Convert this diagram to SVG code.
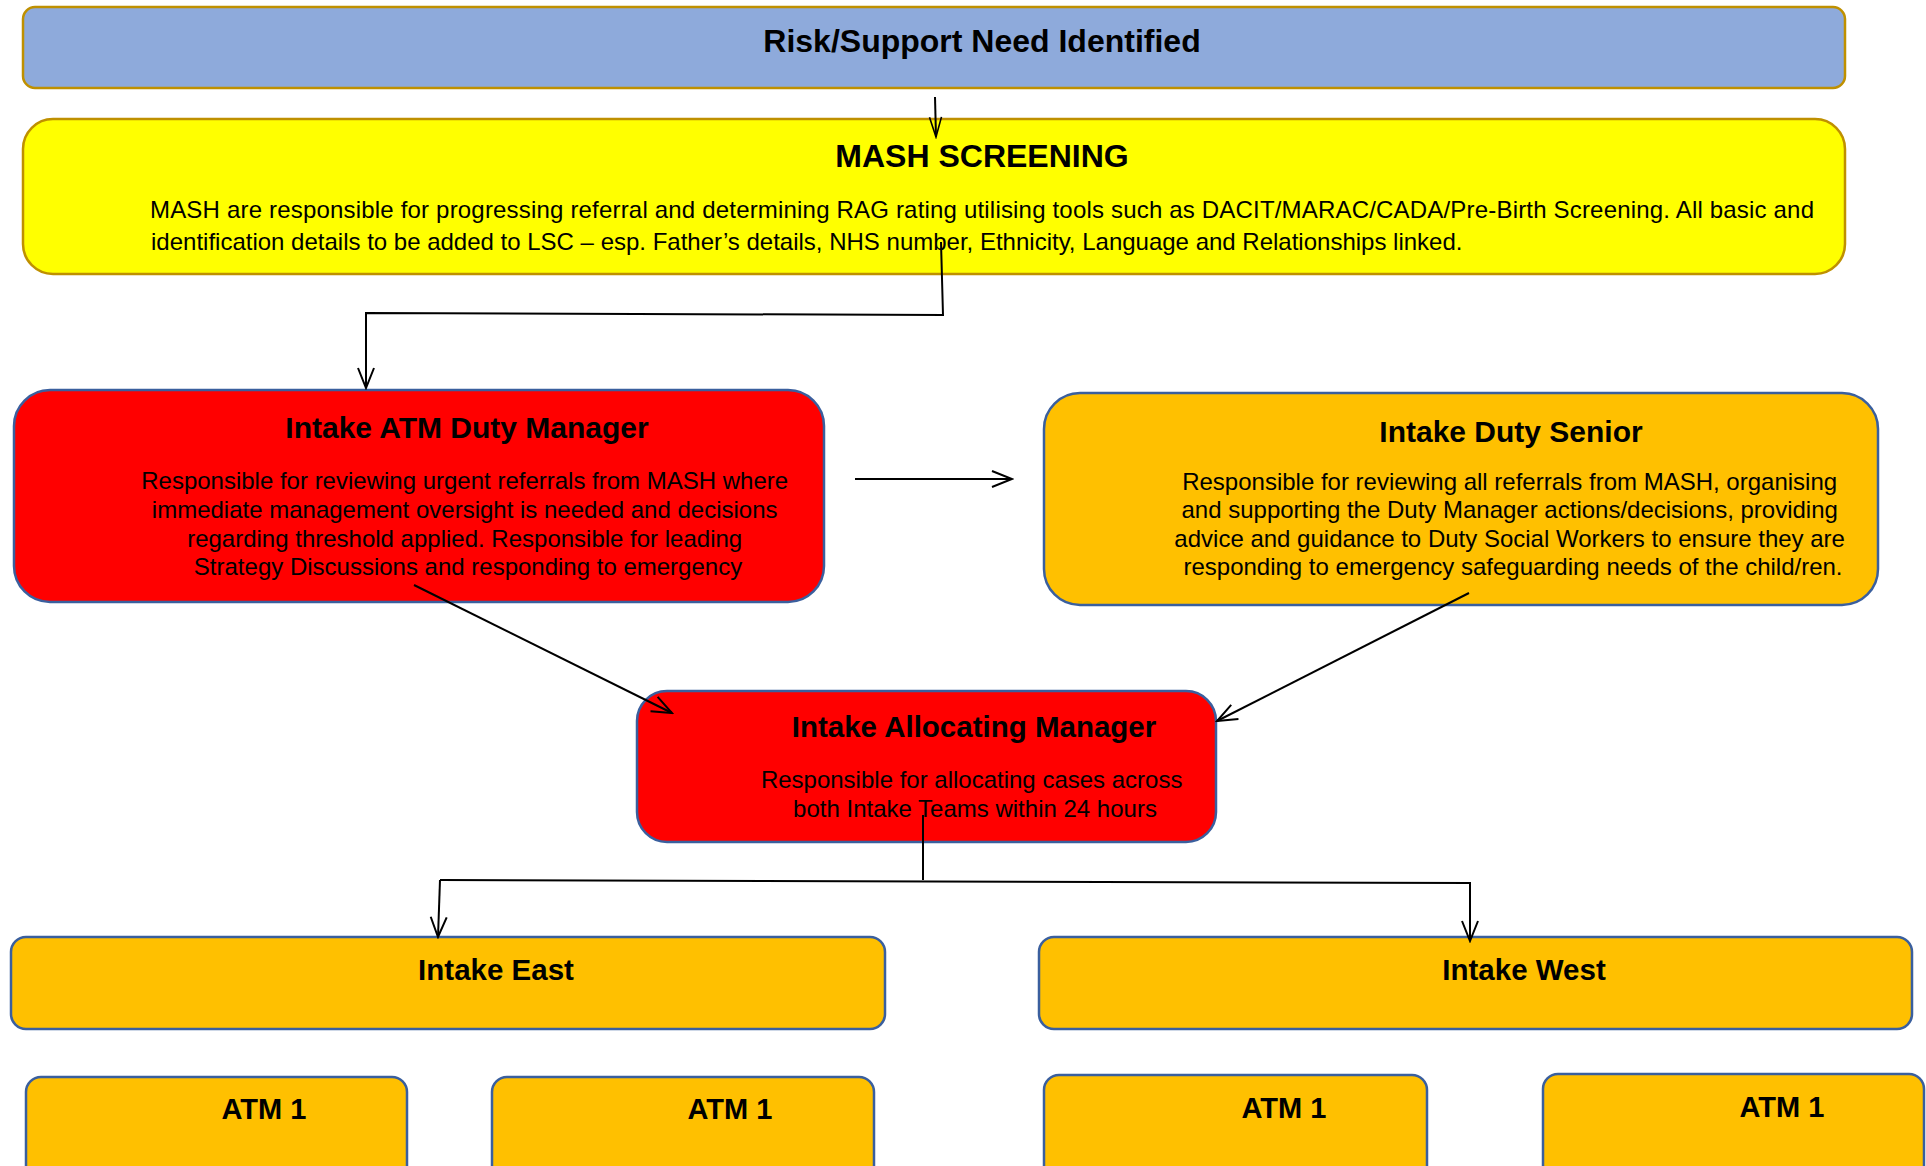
<svg xmlns="http://www.w3.org/2000/svg" width="1926" height="1166" viewBox="0 0 1926 1166">
  <style>
    text { font-family: "Liberation Sans", Arial, sans-serif; fill: #000; }
    .title { font-weight: bold; text-anchor: middle; }
    .body { font-size: 24px; }
    .mid { text-anchor: middle; }
    .gold { stroke: #BF9000; stroke-width: 2.5; }
    .blue { stroke: #3A5F9E; stroke-width: 2.5; }
    .conn { fill: none; stroke: #000; stroke-width: 2; }
  </style>
  <defs>
    <marker id="vee" markerUnits="userSpaceOnUse" markerWidth="26" markerHeight="26" viewBox="0 0 26 26" refX="24" refY="13" orient="auto">
      <path d="M4,5 L24,13 L4,21" fill="none" stroke="#000" stroke-width="2"/>
    </marker>
    <marker id="veeS" markerUnits="userSpaceOnUse" markerWidth="24" markerHeight="24" viewBox="0 0 24 24" refX="22" refY="12" orient="auto">
      <path d="M2,6 L22,12 L2,18" fill="none" stroke="#000" stroke-width="1.6"/>
    </marker>
  </defs>

  <rect width="1926" height="1166" fill="#FFFFFF"/>

  <g id="risk-need">
    <rect x="23" y="7" width="1822" height="81" rx="12" fill="#8EAADB" class="gold"/>
    <text x="982" y="52" class="title" font-size="32">Risk/Support Need Identified</text>
  </g>

  <g id="mash-screening">
    <rect x="23" y="119" width="1822" height="155" rx="30" fill="#FFFF00" class="gold"/>
    <text x="982" y="167" class="title" font-size="32">MASH SCREENING</text>
    <text x="150" y="218" class="body" textLength="1664" lengthAdjust="spacing">MASH are responsible for progressing referral and determining RAG rating utilising tools such as DACIT/MARAC/CADA/Pre-Birth Screening. All basic and</text>
    <text x="151" y="250" class="body">identification details to be added to LSC – esp. Father’s details, NHS number, Ethnicity, Language and Relationships linked.</text>
  </g>

  <g id="atm-duty-manager">
    <rect x="14" y="390" width="810" height="212" rx="36" fill="#FF0000" class="blue"/>
    <text x="467" y="438" class="title" font-size="30">Intake ATM Duty Manager</text>
    <text class="body mid">
      <tspan x="468" y="489">Responsible for reviewing urgent referrals from MASH where</tspan>
      <tspan x="468" y="518">immediate management oversight is needed and decisions</tspan>
      <tspan x="468" y="547">regarding threshold applied. Responsible for leading</tspan>
      <tspan x="468" y="575">Strategy Discussions and responding to emergency</tspan>
    </text>
  </g>

  <g id="duty-senior">
    <rect x="1044" y="393" width="834" height="212" rx="36" fill="#FFC000" class="blue"/>
    <text x="1511" y="442" class="title" font-size="30">Intake Duty Senior</text>
    <text class="body mid">
      <tspan x="1513" y="490">Responsible for reviewing all referrals from MASH, organising</tspan>
      <tspan x="1513" y="518">and supporting the Duty Manager actions/decisions, providing</tspan>
      <tspan x="1513" y="547">advice and guidance to Duty Social Workers to ensure they are</tspan>
      <tspan x="1513" y="575">responding to emergency safeguarding needs of the child/ren.</tspan>
    </text>
  </g>

  <g id="allocating-manager">
    <rect x="637" y="691" width="579" height="151" rx="30" fill="#FF0000" class="blue"/>
    <text x="974" y="737" class="title" font-size="29.5">Intake Allocating Manager</text>
    <text class="body mid">
      <tspan x="975" y="788">Responsible for allocating cases across</tspan>
      <tspan x="975" y="817">both Intake Teams within 24 hours</tspan>
    </text>
  </g>

  <g id="intake-east">
    <rect x="11" y="937" width="874" height="92" rx="15" fill="#FFC000" class="blue"/>
    <text x="496" y="980" class="title" font-size="29.5">Intake East</text>
  </g>

  <g id="intake-west">
    <rect x="1039" y="937" width="873" height="92" rx="15" fill="#FFC000" class="blue"/>
    <text x="1524" y="980" class="title" font-size="29.5">Intake West</text>
  </g>

  <g id="atm-east-1">
    <rect x="26" y="1077" width="381" height="110" rx="15" fill="#FFC000" class="blue"/>
    <text x="264" y="1119" class="title" font-size="29">ATM 1</text>
  </g>

  <g id="atm-east-2">
    <rect x="492" y="1077" width="382" height="110" rx="15" fill="#FFC000" class="blue"/>
    <text x="730" y="1119" class="title" font-size="29">ATM 1</text>
  </g>

  <g id="atm-west-1">
    <rect x="1044" y="1075" width="383" height="110" rx="15" fill="#FFC000" class="blue"/>
    <text x="1284" y="1118" class="title" font-size="29">ATM 1</text>
  </g>

  <g id="atm-west-2">
    <rect x="1543" y="1074" width="381" height="110" rx="15" fill="#FFC000" class="blue"/>
    <text x="1782" y="1117" class="title" font-size="29">ATM 1</text>
  </g>

  <g id="connectors">
    <!-- need identified to screening -->
    <path class="conn" d="M935,97 L936,137" marker-end="url(#veeS)" stroke-width="1.6"/>
    <!-- screening to duty manager -->
    <path class="conn" d="M941,242 L943,315 L366,313 L366,388" marker-end="url(#vee)"/>
    <!-- duty manager to duty senior -->
    <path class="conn" d="M855,479 L1012,479" marker-end="url(#vee)"/>
    <!-- duty manager and senior to allocating manager -->
    <path class="conn" d="M414,585 L672,713" marker-end="url(#vee)"/>
    <path class="conn" d="M1469,593 L1217,721" marker-end="url(#vee)"/>
    <!-- allocating manager to intake teams -->
    <path class="conn" d="M923,815 L923,880"/>
    <path class="conn" d="M440,880 L1470,883 L1470,941" marker-end="url(#vee)" stroke-width="2.5"/>
    <path class="conn" d="M440,880 L438,937" marker-end="url(#vee)"/>
  </g>
</svg>
